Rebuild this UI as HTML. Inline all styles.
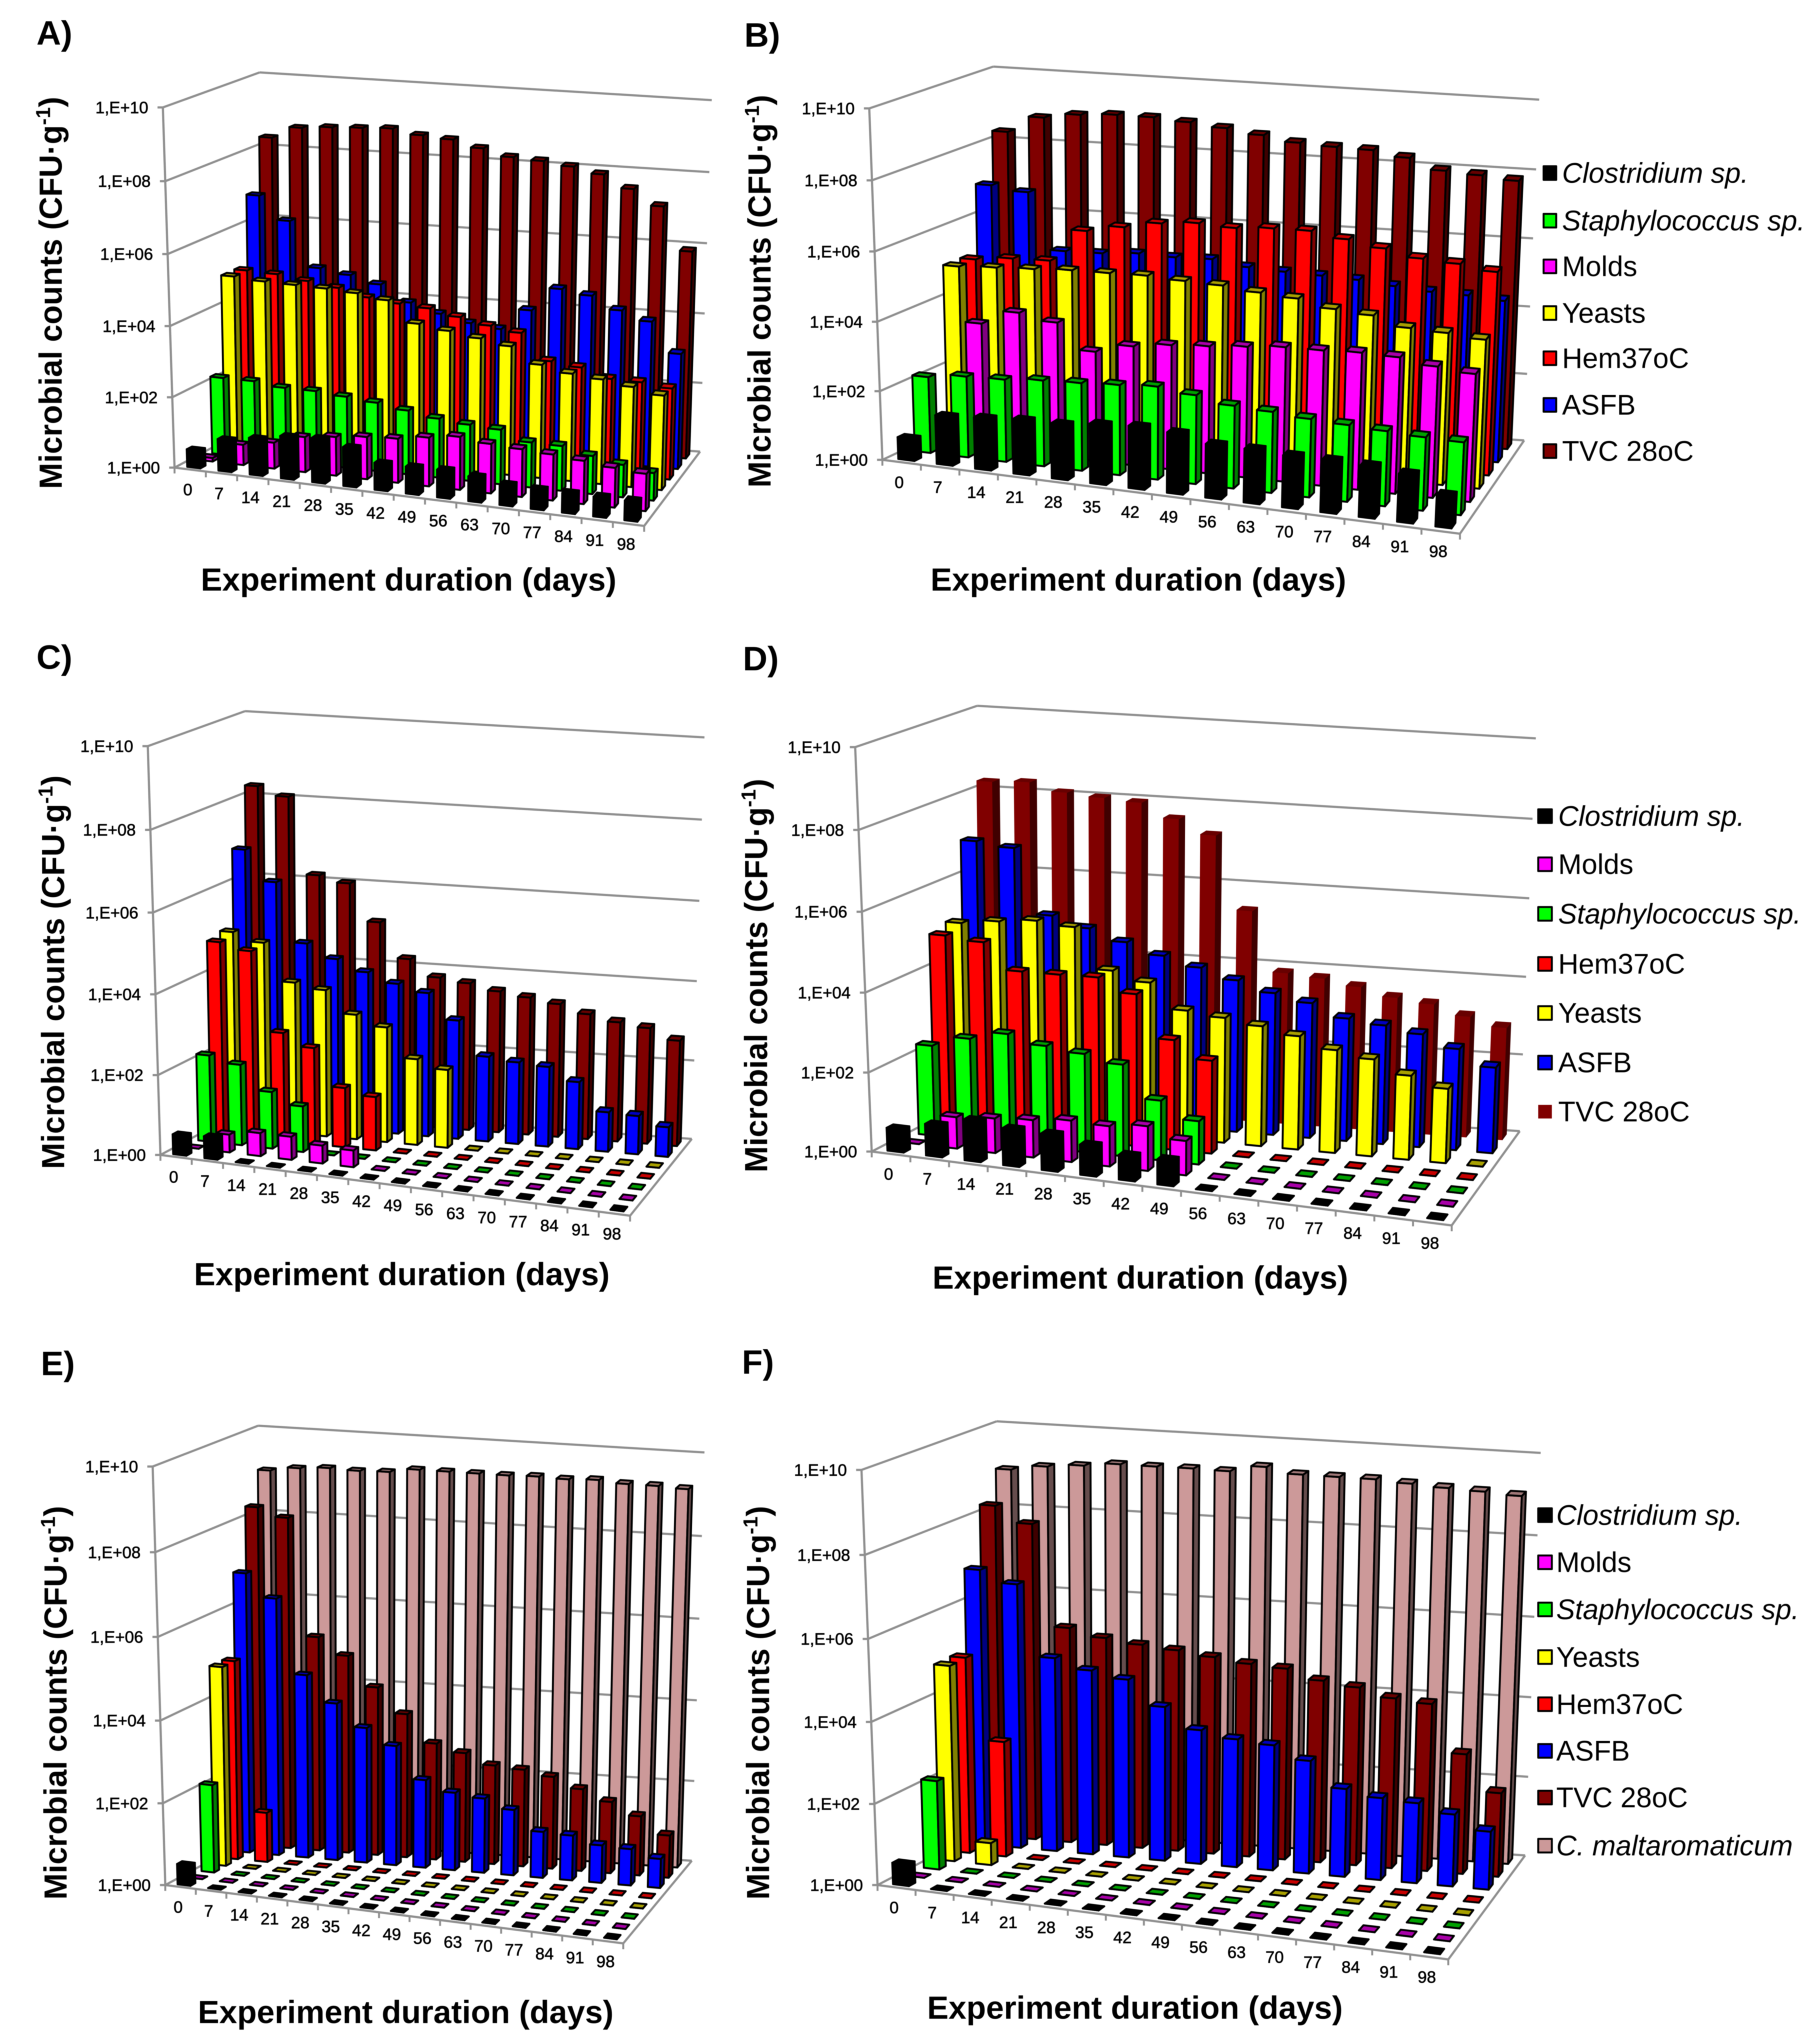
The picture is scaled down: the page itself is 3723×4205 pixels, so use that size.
<!DOCTYPE html>
<html lang="en">
<head>
<meta charset="utf-8">
<title>Microbial counts 3D column charts</title>
<style>
html,body{margin:0;padding:0;background:#fff;}
svg{display:block;filter:blur(.9px);font-family:"Liberation Sans",Arial,sans-serif;}
.letter,.atitle{font-weight:bold;fill:#000;}
.letter{font-size:70px;}
.atitle{font-size:66px;}
.lg{font-size:58px;fill:#000;}
.it{font-style:italic;}
.tick{font-size:34px;fill:#000;stroke:#000;stroke-width:.7px;}
</style>
</head>
<body>
<svg id="chart" xmlns="http://www.w3.org/2000/svg" width="3723" height="4205" viewBox="0 0 3723 4205">
<rect width="3723" height="4205" fill="#fff"/>
<g id="panel-a"></g>
<g id="panel-b"></g>
<g id="panel-c"></g>
<g id="panel-d"></g>
<g id="panel-e"></g>
<g id="panel-f"></g>

<text class="letter" x="75" y="92">A)</text>
<text class="letter" x="1531" y="96">B)</text>
<text class="letter" x="75" y="1376">C)</text>
<text class="letter" x="1528" y="1379">D)</text>
<text class="letter" x="84" y="2829">E)</text>
<text class="letter" x="1526" y="2826">F)</text>

<text class="atitle" transform="translate(127,1006) rotate(-90)" textLength="807" lengthAdjust="spacingAndGlyphs">Microbial counts (CFU·g<tspan dy="-24" font-size="42">-1</tspan><tspan dy="24">)</tspan></text>
<text class="atitle" transform="translate(1585,1003) rotate(-90)" textLength="808" lengthAdjust="spacingAndGlyphs">Microbial counts (CFU·g<tspan dy="-24" font-size="42">-1</tspan><tspan dy="24">)</tspan></text>
<text class="atitle" transform="translate(132,2405) rotate(-90)" textLength="810" lengthAdjust="spacingAndGlyphs">Microbial counts (CFU·g<tspan dy="-24" font-size="42">-1</tspan><tspan dy="24">)</tspan></text>
<text class="atitle" transform="translate(1578,2412) rotate(-90)" textLength="810" lengthAdjust="spacingAndGlyphs">Microbial counts (CFU·g<tspan dy="-24" font-size="42">-1</tspan><tspan dy="24">)</tspan></text>
<text class="atitle" transform="translate(137,3908) rotate(-90)" textLength="810" lengthAdjust="spacingAndGlyphs">Microbial counts (CFU·g<tspan dy="-24" font-size="42">-1</tspan><tspan dy="24">)</tspan></text>
<text class="atitle" transform="translate(1582,3908) rotate(-90)" textLength="810" lengthAdjust="spacingAndGlyphs">Microbial counts (CFU·g<tspan dy="-24" font-size="42">-1</tspan><tspan dy="24">)</tspan></text>

<text class="atitle" x="413" y="1215" textLength="855" lengthAdjust="spacingAndGlyphs">Experiment duration (days)</text>
<text class="atitle" x="1914" y="1215" textLength="855" lengthAdjust="spacingAndGlyphs">Experiment duration (days)</text>
<text class="atitle" x="399" y="2644" textLength="855" lengthAdjust="spacingAndGlyphs">Experiment duration (days)</text>
<text class="atitle" x="1918" y="2651" textLength="855" lengthAdjust="spacingAndGlyphs">Experiment duration (days)</text>
<text class="atitle" x="407" y="4162" textLength="855" lengthAdjust="spacingAndGlyphs">Experiment duration (days)</text>
<text class="atitle" x="1907" y="4153" textLength="855" lengthAdjust="spacingAndGlyphs">Experiment duration (days)</text>

<g stroke-linejoin="round">
<g><rect x="3175" y="342" width="26" height="28" fill="#000" stroke="#000" stroke-width="4"/><text class="lg it" x="3213" y="376">Clostridium sp.</text></g>
<g><rect x="3175" y="440" width="26" height="28" fill="#00ff00" stroke="#000" stroke-width="4"/><text class="lg it" x="3213" y="474">Staphylococcus sp.</text></g>
<g><rect x="3175" y="534" width="26" height="28" fill="#ff00ff" stroke="#000" stroke-width="4"/><text class="lg" x="3213" y="568">Molds</text></g>
<g><rect x="3175" y="630" width="26" height="28" fill="#ffff00" stroke="#000" stroke-width="4"/><text class="lg" x="3213" y="664">Yeasts</text></g>
<g><rect x="3175" y="723" width="26" height="28" fill="#ff0000" stroke="#000" stroke-width="4"/><text class="lg" x="3213" y="757">Hem37oC</text></g>
<g><rect x="3175" y="819" width="26" height="28" fill="#0000ff" stroke="#000" stroke-width="4"/><text class="lg" x="3213" y="853">ASFB</text></g>
<g><rect x="3175" y="914" width="26" height="28" fill="#800000" stroke="#000" stroke-width="4"/><text class="lg" x="3213" y="948">TVC 28oC</text></g>
</g>

<g stroke-linejoin="round">
<g><rect x="3164" y="1665" width="28" height="28" fill="#000" stroke="#000" stroke-width="4"/><text class="lg it" x="3205" y="1699">Clostridium sp.</text></g>
<g><rect x="3164" y="1764" width="28" height="28" fill="#ff00ff" stroke="#000" stroke-width="4"/><text class="lg" x="3205" y="1798">Molds</text></g>
<g><rect x="3164" y="1866" width="28" height="28" fill="#00ff00" stroke="#000" stroke-width="4"/><text class="lg it" x="3205" y="1900">Staphylococcus sp.</text></g>
<g><rect x="3164" y="1969" width="28" height="28" fill="#ff0000" stroke="#000" stroke-width="4"/><text class="lg" x="3205" y="2003">Hem37oC</text></g>
<g><rect x="3164" y="2070" width="28" height="28" fill="#ffff00" stroke="#000" stroke-width="4"/><text class="lg" x="3205" y="2104">Yeasts</text></g>
<g><rect x="3164" y="2172" width="28" height="28" fill="#0000ff" stroke="#000" stroke-width="4"/><text class="lg" x="3205" y="2206">ASFB</text></g>
<g><rect x="3164" y="2273" width="28" height="28" fill="#800000"/><text class="lg" x="3205" y="2307">TVC 28oC</text></g>
</g>

<g stroke-linejoin="round">
<g><rect x="3164" y="3103" width="28" height="28" fill="#000" stroke="#000" stroke-width="4"/><text class="lg it" x="3201" y="3137">Clostridium sp.</text></g>
<g><rect x="3164" y="3200" width="28" height="28" fill="#ff00ff" stroke="#000" stroke-width="4"/><text class="lg" x="3201" y="3234">Molds</text></g>
<g><rect x="3164" y="3297" width="28" height="28" fill="#00ff00" stroke="#000" stroke-width="4"/><text class="lg it" x="3201" y="3331">Staphylococcus sp.</text></g>
<g><rect x="3164" y="3395" width="28" height="28" fill="#ffff00" stroke="#000" stroke-width="4"/><text class="lg" x="3201" y="3429">Yeasts</text></g>
<g><rect x="3164" y="3492" width="28" height="28" fill="#ff0000" stroke="#000" stroke-width="4"/><text class="lg" x="3201" y="3526">Hem37oC</text></g>
<g><rect x="3164" y="3588" width="28" height="28" fill="#0000ff" stroke="#000" stroke-width="4"/><text class="lg" x="3201" y="3622">ASFB</text></g>
<g><rect x="3164" y="3684" width="28" height="28" fill="#800000" stroke="#000" stroke-width="4"/><text class="lg" x="3201" y="3718">TVC 28oC</text></g>
<g><rect x="3164" y="3783" width="28" height="28" fill="#cc9999" stroke="#000" stroke-width="4"/><text class="lg it" x="3201" y="3817">C. maltaromaticum</text></g>
</g>
</svg>

<script>
// Category and axis labels
const days = [0, 7, 14, 21, 28, 35, 42, 49, 56, 63, 70, 77, 84, 91, 98];
const yTickValues = [0, 2, 4, 6, 8, 10];
const yTickLabels = ['1,E+00', '1,E+02', '1,E+04', '1,E+06', '1,E+08', '1,E+10'];

// Panel A (log10 CFU/g)
const aClostridium = [0.5, 0.9, 1.04, 1.2, 1.25, 1.1, 0.76, 0.76, 0.78, 0.7, 0.58, 0.55, 0.55, 0.55, 0.55];
const aMolds = [0.1, 0.58, 0.74, 1.0, 1.1, 1.2, 1.25, 1.38, 1.5, 1.4, 1.35, 1.3, 1.22, 1.12, 1.05];
const aStaph = [2.2, 2.2, 2.1, 2.1, 2.03, 1.95, 1.82, 1.68, 1.6, 1.55, 1.28, 1.27, 1.08, 0.92, 0.78];
const aYeasts = [4.9, 4.84, 4.82, 4.8, 4.75, 4.63, 4.05, 3.93, 3.8, 3.66, 3.22, 3.05, 2.97, 2.84, 2.68];
const aHem = [4.9, 4.87, 4.75, 4.63, 4.43, 4.33, 4.27, 4.1, 3.93, 3.8, 3.07, 2.97, 2.72, 2.7, 2.6];
const aAsfb = [6.85, 6.2, 4.93, 4.8, 4.6, 4.15, 3.9, 3.7, 3.6, 4.2, 4.87, 4.75, 4.4, 4.15, 3.3];
const aTvc = [8.32, 8.65, 8.72, 8.76, 8.8, 8.67, 8.61, 8.42, 8.23, 8.18, 8.08, 7.92, 7.57, 7.14, 5.93];

// Panel B
const bClostridium = [0.64, 1.42, 1.5, 1.58, 1.6, 1.73, 1.8, 1.75, 1.55, 1.55, 1.5, 1.5, 1.48, 1.38, 0.9];
const bStaph = [2.22, 2.36, 2.4, 2.5, 2.55, 2.62, 2.7, 2.58, 2.4, 2.35, 2.27, 2.22, 2.17, 2.12, 2.1];
const bMolds = [0, 3.67, 4.1, 3.93, 3.2, 3.47, 3.62, 3.7, 3.8, 3.9, 3.92, 3.97, 3.95, 3.8, 3.7];
const bYeasts = [5.0, 5.07, 5.13, 5.2, 5.22, 5.25, 5.2, 5.17, 5.07, 5.0, 4.8, 4.72, 4.46, 4.42, 4.33];
const bHem = [5.0, 5.12, 5.15, 6.1, 6.3, 6.5, 6.6, 6.55, 6.63, 6.65, 6.5, 6.33, 6.13, 6.07, 5.93];
const bAsfb = [6.95, 6.83, 5.2, 5.22, 5.3, 5.27, 5.3, 5.15, 5.1, 5.07, 5.03, 4.93, 4.85, 4.83, 4.75];
const bTvc = [8.3, 8.78, 8.93, 9.0, 9.0, 8.93, 8.83, 8.7, 8.55, 8.5, 8.48, 8.33, 8.03, 7.97, 7.88];

// Panel C
const cClostridium = [0.5, 0.55, 0, 0, 0, 0, 0, 0, 0, 0, 0, 0, 0, 0, 0];
const cMolds = [0, 0.45, 0.58, 0.58, 0.45, 0.42, 0, 0, 0, 0, 0, 0, 0, 0, 0];
const cStaph = [2.18, 2.03, 1.43, 1.15, 0, 0, 0, 0, 0, 0, 0, 0, 0, 0, 0];
const cHem = [4.85, 4.7, 2.73, 2.43, 1.5, 1.35, 0, 0, 0, 0, 0, 0, 0, 0, 0];
const cYeasts = [4.95, 4.75, 3.82, 3.7, 3.15, 2.9, 2.17, 1.97, 0, 0, 0, 0, 0, 0, 0];
const cAsfb = [6.85, 6.1, 4.63, 4.3, 4.03, 3.8, 3.63, 3.0, 2.15, 2.07, 2.02, 1.7, 1.0, 0.97, 0.75];
const cTvc = [8.28, 8.07, 6.17, 6.02, 5.1, 4.23, 3.82, 3.73, 3.58, 3.48, 3.37, 3.17, 3.02, 2.93, 2.67];

// Panel D
const dClostridium = [0.58, 0.8, 1.03, 0.93, 0.92, 0.76, 0.62, 0.63, 0, 0, 0, 0, 0, 0, 0];
const dMolds = [0, 0.8, 0.88, 0.95, 1.05, 1.02, 1.13, 0.87, 0, 0, 0, 0, 0, 0, 0];
const dStaph = [2.3, 2.58, 2.8, 2.6, 2.5, 2.33, 1.52, 1.1, 0, 0, 0, 0, 0, 0, 0];
const dHem = [4.9, 4.82, 4.17, 4.18, 4.2, 3.87, 2.8, 2.37, 0, 0, 0, 0, 0, 0, 0];
const dYeasts = [5.03, 5.15, 5.25, 5.17, 4.15, 3.93, 3.3, 3.2, 3.07, 2.9, 2.63, 2.48, 2.15, 1.9, 0];
const dAsfb = [6.92, 6.82, 5.18, 4.93, 4.65, 4.38, 4.15, 3.9, 3.65, 3.47, 3.15, 3.05, 2.9, 2.6, 2.2];
const dTvc = [8.25, 8.3, 8.1, 8.03, 7.97, 7.62, 7.27, 5.42, 3.9, 3.83, 3.68, 3.47, 3.37, 3.12, 2.9];

// Panel E
const eClostridium = [0.5, 0, 0, 0, 0, 0, 0, 0, 0, 0, 0, 0, 0, 0, 0];
const eMolds = [0, 0, 0, 0, 0, 0, 0, 0, 0, 0, 0, 0, 0, 0, 0];
const eStaph = [2.15, 0, 0, 0, 0, 0, 0, 0, 0, 0, 0, 0, 0, 0, 0];
const eYeasts = [4.87, 0, 0, 0, 0, 0, 0, 0, 0, 0, 0, 0, 0, 0, 0];
const eHem = [4.87, 1.22, 0, 0, 0, 0, 0, 0, 0, 0, 0, 0, 0, 0, 0];
const eAsfb = [6.85, 6.3, 4.5, 3.87, 3.33, 2.95, 2.17, 1.92, 1.84, 1.62, 1.14, 1.11, 0.93, 0.9, 0.72];
const eTvc = [8.3, 8.1, 5.27, 4.87, 4.15, 3.55, 2.88, 2.7, 2.45, 2.4, 2.28, 2.03, 1.77, 1.47, 1.05];
const eMalt = [9.05, 9.15, 9.2, 9.18, 9.2, 9.3, 9.3, 9.3, 9.3, 9.32, 9.3, 9.33, 9.28, 9.28, 9.25];

// Panel F
const fClostridium = [0.53, 0, 0, 0, 0, 0, 0, 0, 0, 0, 0, 0, 0, 0, 0];
const fMolds = [0, 0, 0, 0, 0, 0, 0, 0, 0, 0, 0, 0, 0, 0, 0];
const fStaph = [2.2, 0, 0, 0, 0, 0, 0, 0, 0, 0, 0, 0, 0, 0, 0];
const fYeasts = [4.85, 0.55, 0, 0, 0, 0, 0, 0, 0, 0, 0, 0, 0, 0, 0];
const fHem = [4.87, 2.87, 0, 0, 0, 0, 0, 0, 0, 0, 0, 0, 0, 0, 0];
const fAsfb = [6.85, 6.57, 4.83, 4.6, 4.45, 3.85, 3.35, 3.2, 3.13, 2.82, 2.2, 2.05, 2.0, 1.8, 1.45];
const fTvc = [8.25, 7.87, 5.38, 5.2, 5.1, 5.03, 4.93, 4.83, 4.78, 4.55, 4.45, 4.25, 4.18, 3.0, 2.1];
const fMalt = [8.97, 9.1, 9.18, 9.27, 9.27, 9.28, 9.27, 9.43, 9.3, 9.3, 9.3, 9.25, 9.2, 9.17, 9.12];

// Face colours per series: front, side, top
const STYLE = {
  clostridium: ['#000000', '#000000', '#000000'],
  molds: ['#ff00ff', '#800080', '#a800a8'],
  staph: ['#00ff00', '#008000', '#00a000'],
  yeasts: ['#ffff00', '#808000', '#a8a000'],
  hem: ['#ff0000', '#800000', '#c80000'],
  asfb: ['#0000ff', '#000080', '#0000c0'],
  tvc: ['#800000', '#400000', '#680000'],
  malt: ['#cc9999', '#664d4d', '#a07878']
};

const PANELS = [
  { id: 'a', fl: [359, 962], fr: [1325, 1082], br: [1440, 929], bl: [540, 866], flt: [335, 221], frt: [1345, 325], brt: [1464, 206], blt: [534, 149],
    rows: [['clostridium', aClostridium], ['molds', aMolds], ['staph', aStaph], ['yeasts', aYeasts], ['hem', aHem], ['asfb', aAsfb], ['tvc', aTvc]] },
  { id: 'b', fl: [1815, 946], fr: [3003, 1098], br: [3135, 906], bl: [2053, 834], flt: [1788, 223], frt: [3038, 361], brt: [3166, 205], blt: [2043, 137],
    rows: [['clostridium', bClostridium], ['staph', bStaph], ['molds', bMolds], ['yeasts', bYeasts], ['hem', bHem], ['asfb', bAsfb], ['tvc', bTvc]] },
  { id: 'c', fl: [330, 2376], fr: [1296, 2501], br: [1423, 2343], bl: [512, 2278], flt: [304, 1535], frt: [1315, 1644], brt: [1449, 1517], blt: [504, 1463],
    rows: [['clostridium', cClostridium], ['molds', cMolds], ['staph', cStaph], ['hem', cHem], ['yeasts', cYeasts], ['asfb', cAsfb], ['tvc', cTvc]] },
  { id: 'd', fl: [1793, 2369], fr: [2986, 2521], br: [3126, 2327], bl: [2020, 2251], flt: [1759, 1537], frt: [3020, 1668], brt: [3159, 1519], blt: [2010, 1452],
    rows: [['clostridium', dClostridium], ['molds', dMolds], ['staph', dStaph], ['hem', dHem], ['yeasts', dYeasts], ['asfb', dAsfb], ['tvc', dTvc, 'plain']] },
  { id: 'e', fl: [340, 3878], fr: [1282, 3998], br: [1423, 3828], bl: [538, 3771], flt: [314, 3017], frt: [1303, 3121], brt: [1449, 2988], blt: [531, 2933],
    rows: [['clostridium', eClostridium], ['molds', eMolds], ['staph', eStaph], ['yeasts', eYeasts], ['hem', eHem], ['asfb', eAsfb], ['tvc', eTvc], ['malt', eMalt]] },
  { id: 'f', fl: [1805, 3878], fr: [2979, 4031], br: [3137, 3817], bl: [2060, 3745], flt: [1772, 3024], frt: [3010, 3158], brt: [3169, 2989], blt: [2050, 2924],
    rows: [['clostridium', fClostridium], ['molds', fMolds], ['staph', fStaph], ['yeasts', fYeasts], ['hem', fHem], ['asfb', fAsfb], ['tvc', fTvc], ['malt', fMalt]] }
];

const NS = 'http://www.w3.org/2000/svg';
const GRID = '#8f8f8f';
const BAR_W = 0.42;
const BAR_D = 0.42;
const Y_MAX = 10;

function bilinear(p0, p1, p2, p3) {
  return function (u, v) {
    const a = (1 - u) * (1 - v), b = u * (1 - v), c = u * v, d = (1 - u) * v;
    return [a * p0[0] + b * p1[0] + c * p2[0] + d * p3[0],
            a * p0[1] + b * p1[1] + c * p2[1] + d * p3[1]];
  };
}

function yScale(value) {
  const t = value / Y_MAX;
  return t / (t + (1 - t) * 1.03);
}

function drawPanel(panel) {
  const root = document.getElementById('panel-' + panel.id);
  const floor = bilinear(panel.fl, panel.fr, panel.br, panel.bl);
  const roof = bilinear(panel.flt, panel.frt, panel.brt, panel.blt);
  const nCols = days.length;
  const nRows = panel.rows.length;
  const project = function (u, v, value) {
    const a = floor(u, v), b = roof(u, v), t = yScale(value);
    return [a[0] + (b[0] - a[0]) * t, a[1] + (b[1] - a[1]) * t];
  };
  const xScale = function (i) { return (i + 0.5) / nCols; };
  const zScale = function (r) { return (r + 0.5) / nRows; };

  const addLine = function (p, q, name, width) {
    const l = document.createElementNS(NS, 'line');
    
    
    l.setAttribute('x1', p[0]);
    l.setAttribute('y1', p[1]);
    l.setAttribute('x2', q[0]);
    l.setAttribute('y2', q[1]);
    l.setAttribute('stroke', GRID);
    l.setAttribute('stroke-width', width);
    root.appendChild(l);
  };

  // walls, floor outline
  yTickValues.forEach(function (v, i) {
    const front = project(0, 0, v), back = project(0, 1, v), right = project(1, 1, v);
    addLine(front, back, 'side-wall-gridline', 4.5);
    addLine(back, right, 'back-wall-gridline', 4.5);
    addLine([front[0] - 11, front[1]], front, 'y-axis-tick', 4.5);
    const label = document.createElementNS(NS, 'text');
    
    
    label.setAttribute('class', 'tick');
    label.setAttribute('text-anchor', 'end');
    label.setAttribute('x', front[0] - 30);
    label.setAttribute('y', front[1] + 12);
    label.textContent = yTickLabels[i];
    root.appendChild(label);
  });
  addLine(panel.flt, panel.fl, 'y-axis-line', 4.5);
  addLine(panel.fl, panel.fr, 'floor-front-edge', 4.5);
  addLine(panel.fr, panel.br, 'floor-right-edge', 4.5);

  for (let i = 0; i <= nCols; i++) {
    const p = floor(i / nCols, 0);
    addLine(p, [p[0], p[1] + 12], 'x-axis-tick', 4);
  }
  days.forEach(function (day, i) {
    const p = floor(xScale(i), 0);
    const label = document.createElementNS(NS, 'text');
    
    
    label.setAttribute('class', 'tick');
    label.setAttribute('text-anchor', 'middle');
    label.setAttribute('x', p[0] - 5);
    label.setAttribute('y', p[1] + 53);
    label.textContent = day;
    root.appendChild(label);
  });

  // bars: back row first, left column first
  for (let r = nRows - 1; r >= 0; r--) {
    const series = panel.rows[r][0];
    const values = panel.rows[r][1];
    const plain = panel.rows[r][2] === 'plain';
    const colors = STYLE[series];
    const rowGroup = document.createElementNS(NS, 'g');
    
    
    root.appendChild(rowGroup);
    values.forEach(function (value, c) {
      const uc = xScale(c), vc = zScale(r);
      const u0 = uc - BAR_W / nCols / 2, u1 = uc + BAR_W / nCols / 2;
      const v0 = vc - BAR_D / nRows / 2, v1 = vc + BAR_D / nRows / 2;
      const quads = [
        [[u0, v0, 0], [u1, v0, 0], [u1, v0, value], [u0, v0, value]],
        [[u1, v0, 0], [u1, v1, 0], [u1, v1, value], [u1, v0, value]],
        [[u0, v0, value], [u1, v0, value], [u1, v1, value], [u0, v1, value]]
      ];
      const bar = document.createElementNS(NS, 'g');
      
      
      quads.forEach(function (q, k) {
        const face = document.createElementNS(NS, 'polygon');
        
        
        face.setAttribute('points', q.map(function (pt) {
          const s = project(pt[0], pt[1], pt[2]);
          return s[0].toFixed(1) + ',' + s[1].toFixed(1);
        }).join(' '));
        face.setAttribute('fill', colors[k]);
        face.setAttribute('stroke', plain ? colors[k] : '#000');
        face.setAttribute('stroke-width', plain ? 1 : 4);
        face.setAttribute('stroke-linejoin', 'round');
        bar.appendChild(face);
      });
      rowGroup.appendChild(bar);
    });
  }
}

PANELS.forEach(drawPanel);
</script>
</body>
</html>
